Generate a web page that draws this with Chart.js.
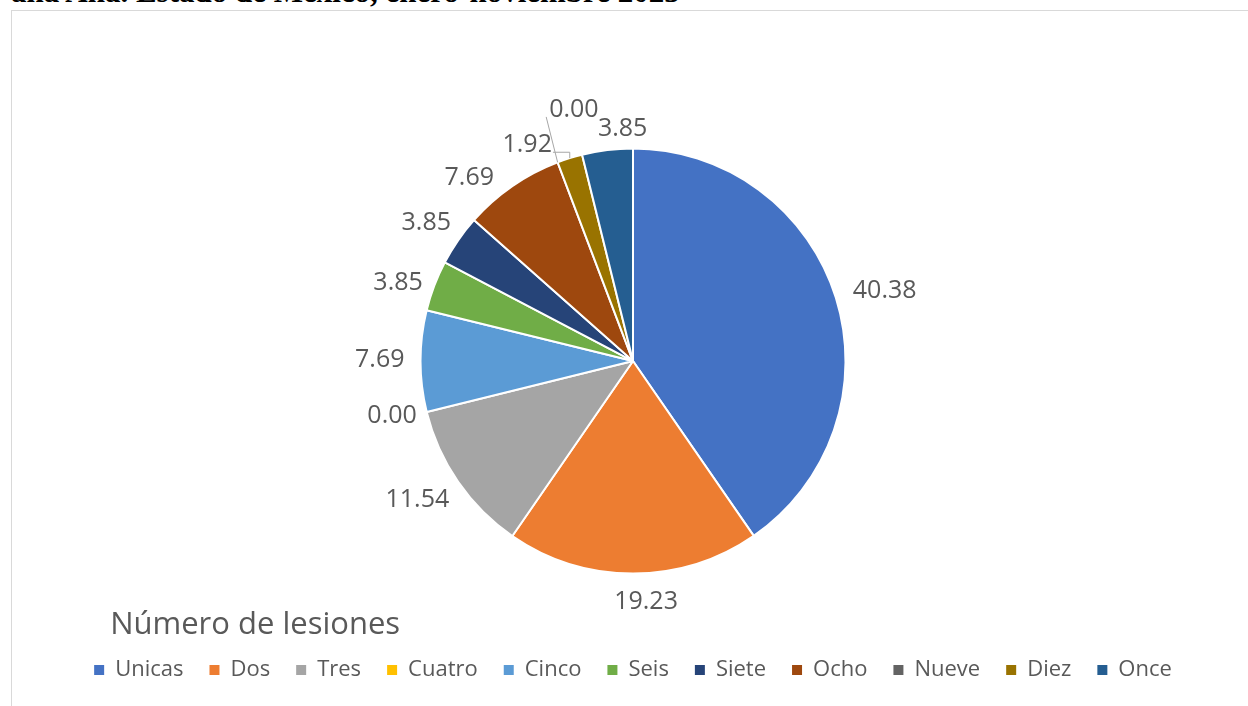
<!DOCTYPE html>
<html><head><meta charset="utf-8">
<script src="https://cdn.jsdelivr.net/npm/chart.js@4.4.1/dist/chart.umd.min.js"></script>
<style>
html,body{margin:0;padding:0;background:#fff;width:1248px;height:706px;overflow:hidden;}
#doc{position:absolute;left:11px;top:-24px;font:bold 31px "Liberation Serif";line-height:1;white-space:nowrap;color:#000;}
#frame{position:absolute;left:11px;top:10px;width:1300px;height:800px;border-left:1px solid #d9d9d9;border-top:1px solid #d9d9d9;}
#wrap{position:absolute;left:0;top:0;width:1248px;height:706px;}
</style></head><body>
<div id="doc">ana Ana. Estado de México, enero-noviembre 2023</div>
<div id="frame"></div>
<div id="wrap"><canvas id="c"></canvas></div>
<script>
const categories = ['Unicas','Dos','Tres','Cuatro','Cinco','Seis','Siete','Ocho','Nueve','Diez','Once'];
const values = [40.38, 19.23, 11.54, 0.00, 7.69, 3.85, 3.85, 7.69, 0.00, 1.92, 3.85];
const colors = ['#4472C4','#ED7D31','#A5A5A5','#FFC000','#5B9BD5','#70AD47','#264478','#9E480E','#636363','#997300','#255E91'];
const legendTitle = 'Número de lesiones';

const labelNudges = [[5,0],[13,4],[-3,4],[3,-2],[-2,-1],[0,6],[0,-4],[-21,11],[30,-30],[-31,10],[20,3]];
const leaderStyle = [null,null,null,null,null,null,null,null,'straight','elbow',null];

const labelPlugin = {
  id: 'outLabels',
  afterDatasetsDraw(chart) {
    const ctx = chart.ctx;
    const meta = chart.getDatasetMeta(0);
    ctx.save();
    ctx.font = '25px "Open Sans"';
    ctx.fillStyle = '#595959';
    ctx.textAlign = 'center';
    ctx.textBaseline = 'middle';
    meta.data.forEach((arc, i) => {
      const p = arc.getProps(['x','y','startAngle','endAngle','outerRadius'], true);
      const a = (p.startAngle + p.endAngle) / 2;
      const ux = Math.cos(a), uy = Math.sin(a);
      const txt = values[i].toFixed(2);
      const w = ctx.measureText(txt).width, h = 20;
      const d = p.outerRadius + 14;
      const cx = p.x + ux * d + ux * w / 2 + labelNudges[i][0];
      const cy = p.y + uy * d + uy * h / 2 + labelNudges[i][1];
      const ex = p.x + ux * p.outerRadius, ey = p.y + uy * p.outerRadius;
      if (leaderStyle[i]) {
        ctx.save();
        ctx.strokeStyle = '#a6a6a6';
        ctx.lineWidth = 1;
        ctx.beginPath();
        if (leaderStyle[i] === 'straight') {
          ctx.moveTo(cx - w / 2 - 3, cy + 7);
          ctx.lineTo(ex, ey);
        } else {
          ctx.moveTo(cx + w / 2 + 1, cy + 7);
          ctx.lineTo(ex, cy + 7);
          ctx.lineTo(ex, ey);
        }
        ctx.stroke();
        ctx.restore();
      }
      ctx.fillText(txt, cx, cy);
    });
    ctx.restore();
  },
  afterDraw(chart) {
    const lg = chart.legend;
    if (!lg || !lg.legendHitBoxes || !lg.legendHitBoxes.length) return;
    const ctx = chart.ctx;
    ctx.save();
    ctx.font = '31px "Open Sans"';
    ctx.fillStyle = '#595959';
    ctx.textAlign = 'left';
    ctx.textBaseline = 'middle';
    ctx.fillText(legendTitle, lg.legendHitBoxes[0].left + 16, lg.top + 15.5);
    ctx.restore();
  }
};

new Chart(document.getElementById('c'), {
  type: 'pie',
  data: {
    labels: categories,
    datasets: [{
      data: values,
      backgroundColor: colors,
      borderColor: '#ffffff',
      borderWidth: 2,
      radius: 212.5
    }]
  },
  options: {
    responsive: true,
    maintainAspectRatio: false,
    animation: false,
    events: [],
    layout: { padding: { top: 112, bottom: 15, left: 18, right: 0 } },
    plugins: {
      tooltip: { enabled: false },
      legend: {
        position: 'bottom',
        title: {
          display: true,
          text: legendTitle,
          position: 'start',
          color: 'rgba(0,0,0,0)',
          font: { family: 'Open Sans', size: 31, lineHeight: 0.74 },
          padding: { top: 0, bottom: 0 }
        },
        labels: {
          boxWidth: 10,
          boxHeight: 10,
          padding: 26,
          color: '#595959',
          font: { family: 'Open Sans', size: 22 },
          generateLabels(chart) {
            const items = Chart.controllers.pie.overrides.plugins.legend.labels.generateLabels(chart);
            items.forEach(it => { it.lineWidth = 0; it.strokeStyle = it.fillStyle; });
            return items;
          }
        }
      }
    }
  },
  plugins: [labelPlugin]
});
</script>
</body></html>
